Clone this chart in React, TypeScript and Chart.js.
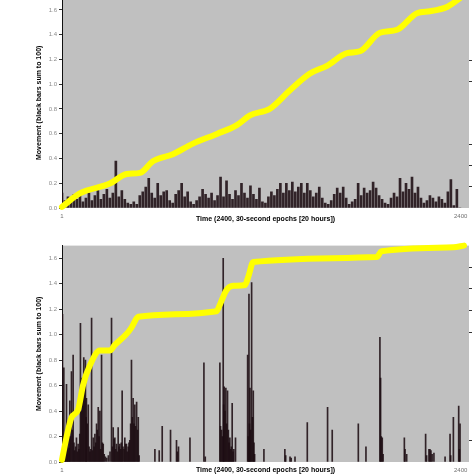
import React, { useEffect, useRef } from "react";
import { Chart, registerables } from "chart.js";

Chart.register(...registerables);
Chart.defaults.font.family = '"Liberation Sans", Arial, sans-serif';

// ---------- axis ticks ----------
const X_TICKS = [1, 2400];
const LEFT_TICKS = [0, 0.2, 0.4, 0.6, 0.8, 1.0, 1.2, 1.4, 1.6];
const TOP_RIGHT_TICKS = [10, 20, 30, 60, 70];
const BOTTOM_RIGHT_TICKS = [10, 60, 70, 80, 90];
const X_TITLE = "Time (2400, 30-second epochs [20 hours])";
const Y_TITLE = "Movement (black bars sum to 100)";

// ---------- top panel: movement per epoch bin (18 epochs per bar) ----------
const TOP_BIN_EPOCHS = 18;
const TOP_MOVEMENT = [
  0.12, 0.06, 0.09, 0.05, 0.11, 0.07, 0.13, 0.05, 0.08, 0.12,
  0.06, 0.10, 0.14, 0.07, 0.11, 0.15, 0.08, 0.12, 0.38, 0.09,
  0.14, 0.07, 0.04, 0.03, 0.05, 0.03, 0.10, 0.13, 0.17, 0.24,
  0.12, 0.08, 0.20, 0.10, 0.13, 0.14, 0.06, 0.04, 0.11, 0.14,
  0.20, 0.09, 0.13, 0.05, 0.03, 0.06, 0.09, 0.15, 0.11, 0.08,
  0.12, 0.06, 0.10, 0.25, 0.09, 0.22, 0.11, 0.07, 0.14, 0.10,
  0.20, 0.12, 0.08, 0.18, 0.11, 0.07, 0.16, 0.05, 0.04, 0.09,
  0.13, 0.10, 0.15, 0.20, 0.12, 0.20, 0.14, 0.21, 0.13, 0.17,
  0.20, 0.12, 0.20, 0.14, 0.09, 0.12, 0.17, 0.08, 0.04, 0.03,
  0.06, 0.11, 0.16, 0.12, 0.17, 0.08, 0.03, 0.05, 0.07, 0.20,
  0.10, 0.16, 0.12, 0.14, 0.21, 0.16, 0.10, 0.07, 0.04, 0.03,
  0.08, 0.12, 0.09, 0.24, 0.13, 0.20, 0.15, 0.25, 0.12, 0.17,
  0.08, 0.04, 0.06, 0.10, 0.08, 0.05, 0.09, 0.07, 0.04, 0.13,
  0.23, 0.02, 0.15, 0.0,
];
const TOP_CUM_EPOCHS = [1, 108, 289, 391, 470, 548, 668, 789, 933, 1053, 1132, 1252, 1373, 1493, 1595, 1716, 1794, 1914, 2017, 2137, 2215, 2324, 2400];
const TOP_CUMULATIVE = [0.5, 6.9, 11.6, 16.2, 16.7, 22.2, 25.5, 30.6, 35.2, 39.4, 44.0, 47.2, 56.0, 63.9, 67.6, 73.6, 74.5, 83.3, 84.7, 92.6, 93.5, 95.8, 100];

// ---------- bottom panel: movement per epoch ----------
const BOTTOM_EPOCHS = [
  4, 8, 12, 16, 20, 24, 28, 32, 36, 40, 44, 48, 52, 58, 63, 68, 73, 78, 83, 88,
  93, 98, 103, 108, 112, 117, 122, 127, 132, 137, 142, 146, 148, 153, 159, 164, 169, 174, 179, 184,
  189, 194, 199, 204, 209, 214, 219, 224, 229, 234, 239, 244, 249, 255, 262, 270, 280, 290, 299, 304,
  309, 314, 319, 324, 329, 334, 339, 344, 349, 354, 358, 363, 368, 374, 379, 384, 389, 394, 399, 404,
  409, 414, 419, 424, 429, 434, 439, 444, 450, 455, 460, 465,
  560, 586, 604, 654, 690, 695, 702, 771, 855, 863,
  951, 955, 961, 966, 971, 974, 977, 982, 987, 992, 997, 1002, 1006, 1011, 1016, 1020, 1025, 1030, 1035, 1045,
  1118, 1122, 1126, 1129, 1132, 1137, 1142, 1147, 1152, 1156, 1160,
  1216, 1342, 1347, 1373, 1380, 1403, 1477, 1599, 1627, 1784, 1830,
  1914, 1918, 1922, 1928, 1933, 2061, 2065, 2075, 2189, 2195, 2209, 2215, 2221, 2228, 2239,
  2306, 2336, 2340, 2356, 2388, 2392, 2396,
];
const BOTTOM_MOVEMENT = [
  1.16, 0.15, 0.74, 0.10, 0.12, 0.08, 0.61, 0.14, 0.09, 0.18, 0.11, 0.48, 0.20, 0.71, 0.25, 0.84, 0.15, 0.09, 0.12, 0.19,
  0.08, 0.14, 0.10, 0.22, 1.09, 0.40, 0.66, 0.55, 0.82, 0.60, 0.80, 0.35, 0.50, 0.30, 0.45, 0.12, 0.08, 0.10, 1.13, 0.09,
  0.19, 0.12, 0.22, 0.15, 0.30, 0.25, 0.43, 0.20, 0.40, 0.10, 0.84, 0.15, 0.14, 0.06, 0.04, 0.03, 0.05, 0.08, 1.13, 0.12,
  0.27, 0.18, 0.19, 0.10, 0.14, 0.08, 0.27, 0.12, 0.14, 0.10, 0.15, 0.56, 0.12, 0.10, 0.19, 0.14, 0.14, 0.08, 0.12, 0.15,
  0.17, 0.30, 0.80, 0.35, 0.50, 0.30, 0.45, 0.28, 0.47, 0.25, 0.35, 0.05,
  0.10, 0.09, 0.28, 0.25, 0.17, 0.08, 0.12, 0.19, 0.78, 0.04,
  0.78, 0.28, 0.25, 0.20, 1.60, 0.45, 0.59, 0.40, 0.58, 0.30, 0.56, 0.25, 0.15, 0.19, 0.10, 0.12, 0.46, 0.08, 0.10, 0.19,
  0.84, 0.20, 1.32, 0.30, 0.58, 0.25, 1.41, 0.35, 0.56, 0.15, 0.06,
  0.10, 0.10, 0.05, 0.04, 0.03, 0.04, 0.31, 0.43, 0.25, 0.30, 0.12,
  0.98, 0.66, 0.20, 0.19, 0.06, 0.19, 0.10, 0.06, 0.22, 0.05, 0.10, 0.10, 0.09, 0.06, 0.07,
  0.04, 0.22, 0.05, 0.35, 0.44, 0.10, 0.30,
];
const BOTTOM_CUM_EPOCHS = [1, 28, 58, 98, 128, 169, 229, 289, 319, 389, 419, 460, 931, 951, 991, 1031, 1102, 1122, 1152, 1894, 1924, 2356, 2420];
const BOTTOM_CUMULATIVE = [1, 11.4, 20.5, 24.2, 35.6, 44.7, 51.5, 51.5, 54.1, 59.1, 62.1, 67.1, 69.7, 72.7, 79.5, 81.4, 81.8, 85.6, 92.4, 94.7, 97.4, 99.2, 100];

const PANEL_BG = "#c0c0c0";
const BAR_COLOR = "rgba(28, 12, 18, 0.88)";
const LINE_COLOR = "#ffff00";

const bgPlugin = {
  id: "panelBg",
  beforeDraw(chart: any) {
    const { ctx, chartArea: a } = chart;
    ctx.save();
    ctx.fillStyle = PANEL_BG;
    ctx.fillRect(a.left, a.top, a.right - a.left, a.bottom - a.top);
    ctx.restore();
  },
};

type PanelProps = {
  top: number;
  height: number;
  padTop: number;
  xAxisHeight: number;
  titleOffset: number;
  barX: number[];
  barY: number[];
  barThickness: number;
  lineX: number[];
  lineY: number[];
  rightTicks: number[];
};

function Panel(p: PanelProps) {
  const ref = useRef<HTMLCanvasElement | null>(null);
  useEffect(() => {
    if (!ref.current) return;
    const xTitlePlugin = {
      id: "xTitle",
      afterDraw(chart: any) {
        const { ctx, chartArea: a } = chart;
        ctx.save();
        ctx.font = 'bold 7px "Liberation Sans", Arial, sans-serif';
        ctx.fillStyle = "#000";
        ctx.textAlign = "center";
        ctx.textBaseline = "middle";
        ctx.fillText(X_TITLE, (a.left + a.right) / 2, a.bottom + p.titleOffset);
        ctx.restore();
      },
    };
    const chart = new Chart(ref.current, {
      type: "bar",
      data: {
        datasets: [
          {
            type: "line",
            data: p.lineX.map((x, i) => ({ x, y: p.lineY[i] })),
            yAxisID: "y2",
            borderColor: LINE_COLOR,
            borderWidth: 6,
            pointRadius: 0,
            cubicInterpolationMode: "monotone",
            borderCapStyle: "round",
            borderJoinStyle: "round",
            clip: false,
            order: 0,
          } as any,
          {
            type: "bar",
            data: p.barX.map((x, i) => ({ x, y: p.barY[i] })),
            yAxisID: "y",
            backgroundColor: BAR_COLOR,
            barThickness: p.barThickness,
            order: 1,
          } as any,
        ],
      },
      options: {
        animation: false,
        responsive: true,
        maintainAspectRatio: false,
        layout: { padding: { top: p.padTop, left: 0, right: 0, bottom: 0 } },
        plugins: { legend: { display: false }, tooltip: { enabled: false } },
        scales: {
          x: {
            type: "linear",
            min: 1,
            max: 2450,
            offset: false,
            grid: { display: false, drawTicks: false, offset: false },
            border: { display: false },
            afterBuildTicks: (s: any) => {
              s.ticks = X_TICKS.map((v) => ({ value: v }));
            },
            afterFit: (s: any) => {
              s.height = p.xAxisHeight;
            },
            ticks: {
              autoSkip: false,
              maxRotation: 0,
              padding: 5,
              font: { size: 6 },
              color: "#707070",
              callback: (v: any) => String(v),
            },
          },
          y: {
            position: "left",
            min: 0,
            max: 1.7,
            grid: { drawOnChartArea: false, drawTicks: true, tickLength: 3, color: "#333" },
            border: { display: true, color: "#111", width: 1 },
            afterBuildTicks: (s: any) => {
              s.ticks = LEFT_TICKS.map((v) => ({ value: v }));
            },
            afterFit: (s: any) => {
              s.width = 62;
            },
            ticks: {
              padding: 2,
              font: { size: 6 },
              color: "#8a8a8a",
              callback: (v: any) => Number(v).toFixed(1),
            },
            title: {
              display: true,
              text: Y_TITLE,
              color: "#000",
              font: { size: 7, weight: "bold" },
              padding: { top: 35, bottom: 0 },
            },
          },
          y2: {
            position: "right",
            min: 0,
            max: 100,
            grid: { drawOnChartArea: false, drawTicks: true, tickLength: 3, color: "#333" },
            border: { display: false },
            afterBuildTicks: (s: any) => {
              s.ticks = p.rightTicks.map((v) => ({ value: v }));
            },
            afterFit: (s: any) => {
              s.width = 5;
            },
            ticks: { display: false },
          },
        },
      } as any,
      plugins: [bgPlugin, xTitlePlugin],
    });
    return () => chart.destroy();
  }, []);
  return (
    <div style={{ position: "absolute", left: 0, top: p.top, width: 474, height: p.height }}>
      <canvas ref={ref} />
    </div>
  );
}

export default function App() {
  const topX = TOP_MOVEMENT.map((_, i) => 1 + i * TOP_BIN_EPOCHS);
  return (
    <div style={{ position: "absolute", left: 0, top: 0, width: 474, height: 474, overflow: "hidden", background: "#fff" }}>
      <Panel
        top={-8}
        height={234}
        padTop={0}
        xAxisHeight={18}
        titleOffset={11}
        barX={topX}
        barY={TOP_MOVEMENT}
        barThickness={2}
        lineX={TOP_CUM_EPOCHS}
        lineY={TOP_CUMULATIVE}
        rightTicks={TOP_RIGHT_TICKS}
      />
      <Panel
        top={240}
        height={234}
        padTop={2}
        xAxisHeight={12}
        titleOffset={8}
        barX={BOTTOM_EPOCHS}
        barY={BOTTOM_MOVEMENT}
        barThickness={1}
        lineX={BOTTOM_CUM_EPOCHS}
        lineY={BOTTOM_CUMULATIVE}
        rightTicks={BOTTOM_RIGHT_TICKS}
      />
    </div>
  );
}
